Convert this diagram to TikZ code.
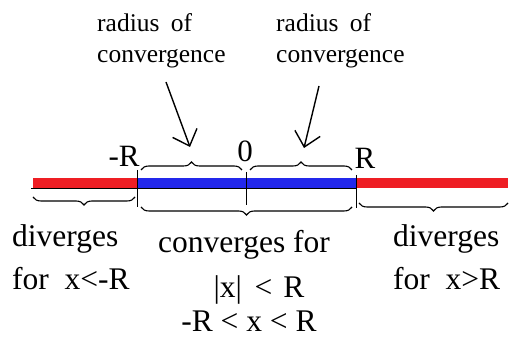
\documentclass[tikz,border=0pt]{standalone}
\usepackage{fontspec}
\setmainfont{Liberation Serif}
\usetikzlibrary{decorations.pathreplacing,arrows.meta}
\definecolor{barred}{RGB}{238,30,36}
\definecolor{barblue}{RGB}{35,40,235}
\begin{document}
\begin{tikzpicture}[x=1pt,y=-1pt,
  lbl/.style={inner sep=0pt, font=\fontsize{31}{33}\selectfont},
  toptext/.style={inner sep=0pt, align=left, font=\fontsize{25.5}{31}\selectfont},
  bottext/.style={inner sep=0pt, font=\fontsize{31.5}{34}\selectfont},
  brc/.style={decorate, decoration={brace, amplitude=8pt}, line width=1.1pt},
  tickline/.style={line width=1pt},
  barline/.style={line width=10pt, line cap=butt},
  arr/.style={line width=1.4pt, -{Straight Barb[length=14pt,width=26pt]}}]
\useasboundingbox (0,0) rectangle (512,344);
% axis points
\coordinate (a) at (33,183);
\coordinate (m) at (137,183);
\coordinate (o) at (246,183);
\coordinate (r) at (356,183);
\coordinate (b) at (508,183);
\draw[barline, barred] (a) -- (m);
\draw[barline, barblue] (m) -- (r);
\draw[barline, barred] (r) -- (b);
\draw[line width=0.6pt] (31,188.5) -- (356,188.5);
% ticks
\draw[tickline] (137,170) -- (137,207);
\draw[tickline] (246,172) -- (246,205);
\draw[tickline] (356,175) -- (356,208);
% upper braces
\draw[brc] (141,170) -- (242,170);
\draw[brc] (250,170) -- (352,170);
% lower braces
\draw[brc] (135,197) -- (33,197);
\draw[brc] (352,207) -- (141,207);
\draw[brc] (508,203) -- (359,203);
% labels
\node[lbl, anchor=base] (mR) at (124,167) {-R};
\node[lbl, anchor=base] (zero) at (245,162) {0};
\node[lbl, anchor=base] (pR) at (365,169) {R};
% radius of convergence
\node[toptext, anchor=north west] (rl) at (97,13) {radius\hspace{0.45em}of\\convergence};
\node[toptext, anchor=north west] (rr) at (276,13) {radius\hspace{0.45em}of\\convergence};
\coordinate (s1) at (166,82);
\coordinate (t1) at (190,147);
\coordinate (s2) at (319,86);
\coordinate (t2) at (304,148);
\draw[arr] (s1) -- (t1);
\draw[arr] (s2) -- (t2);
% bottom texts
\node[bottext, anchor=base west] (dl1) at (12,247) {diverges};
\node[bottext, anchor=base west] (dl2) at (12,290) {for\ \ x<-R};
\node[bottext, anchor=base] (c1) at (244,253) {converges for};
\node[bottext, anchor=base] (c2) at (259,298) {|x|\hspace{0.4em}<\hspace{0.35em}R};
\node[bottext, anchor=base] (c3) at (249,332) {-R < x < R};
\node[bottext, anchor=base west] (dr1) at (393,247) {diverges};
\node[bottext, anchor=base west] (dr2) at (393,290) {for\ \ x>R};
\end{tikzpicture}
\end{document}
